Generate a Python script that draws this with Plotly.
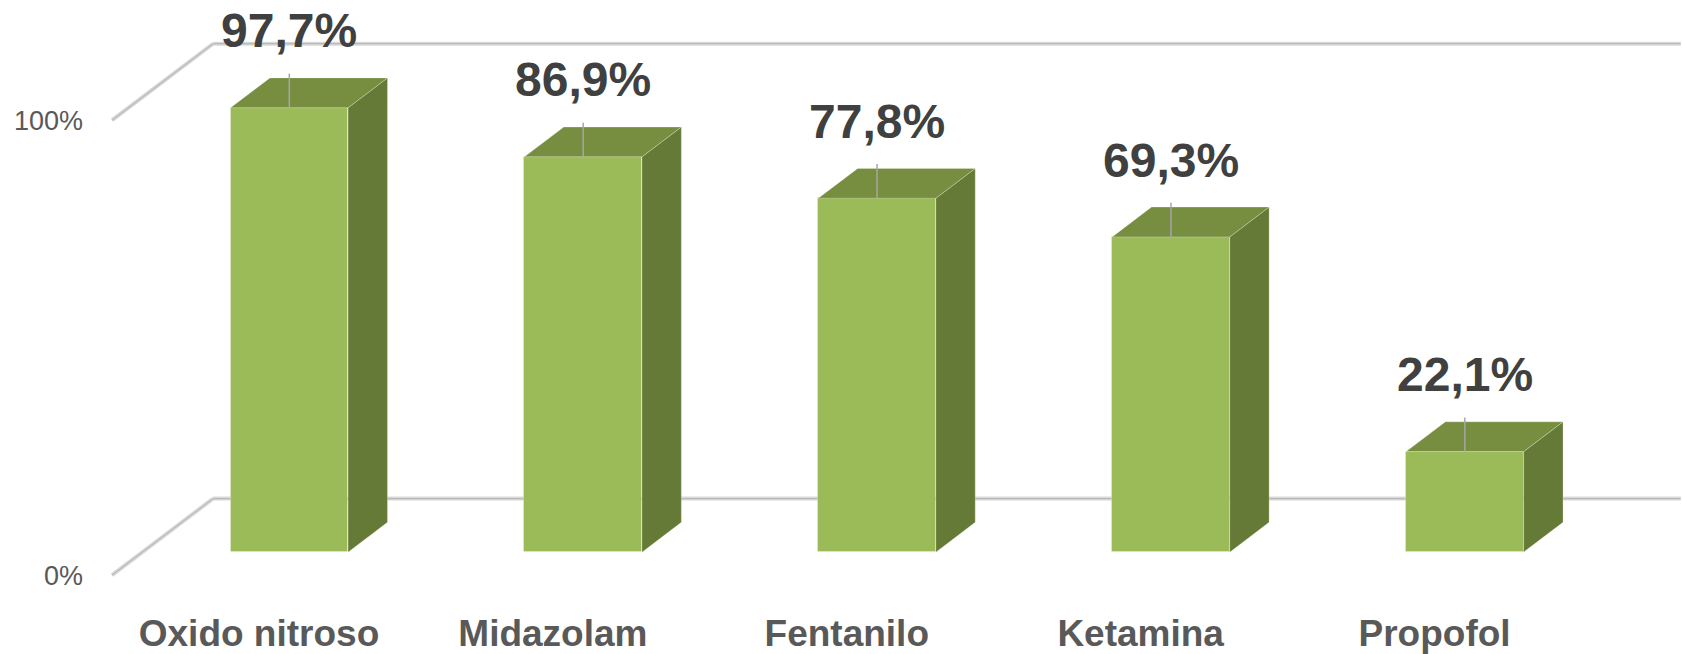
import plotly.graph_objects as go

# ---- data ----
categories = ["Oxido nitroso", "Midazolam", "Fentanilo", "Ketamina", "Propofol"]
values = [97.7, 86.9, 77.8, 69.3, 22.1]
y_tickvals = [0, 100]
y_ticktext = ["0%", "100%"]

# ---- 3D projection styling (offsets per unit depth) ----
DX = 0.3437   # x shift (category units) from front to back of floor
DY = 16.81    # y shift (% units) from front to back of floor
D0, D1 = 0.30, 0.69   # bar front / back depth
W = 0.20      # half bar width

FRONT = "#9BBB59"
TOP = "#778E41"
SIDE = "#657A36"
EDGE = "rgba(255,255,255,0.25)"
GRID_OUT = "#d9d9d9"
GRID_IN = "#bababa"

fig = go.Figure()

n = len(categories)
u_left, u_right = -0.5, n - 0.5 - 0.006

# gridlines (below traces): back wall lines + left diagonals
for v in y_tickvals:
    segs = [(u_left, v, u_left + DX, v + DY), (u_left + DX, v + DY, u_right + DX, v + DY)]
    for col, wd in [(GRID_OUT, 4), (GRID_IN, 1.2)]:
        for x0, y0, x1, y1 in segs:
            fig.add_shape(type="line", x0=x0, y0=y0, x1=x1, y1=y1, xref="x", yref="y",
                          line=dict(color=col, width=wd), layer="below")

# bars: side + top faces
for i, v in enumerate(values):
    xs = [i + W + D0 * DX, i + W + D1 * DX, i + W + D1 * DX, i + W + D0 * DX, i + W + D0 * DX]
    ys = [D0 * DY, D1 * DY, v + D1 * DY, v + D0 * DY, D0 * DY]
    fig.add_trace(go.Scatter(x=xs, y=ys, mode="lines", fill="toself",
                             fillcolor=SIDE, line=dict(color=EDGE, width=1),
                             hoverinfo="skip", showlegend=False))
    xs = [i - W + D0 * DX, i - W + D1 * DX, i + W + D1 * DX, i + W + D0 * DX, i - W + D0 * DX]
    ys = [v + D0 * DY, v + D1 * DY, v + D1 * DY, v + D0 * DY, v + D0 * DY]
    fig.add_trace(go.Scatter(x=xs, y=ys, mode="lines", fill="toself",
                             fillcolor=TOP, line=dict(color=EDGE, width=1),
                             hoverinfo="skip", showlegend=False))

# front faces
fig.add_trace(go.Bar(
    x=[i + D0 * DX for i in range(n)], y=values, base=[D0 * DY] * n,
    width=2 * W, marker=dict(color=FRONT, line=dict(color=EDGE, width=1)),
    hoverinfo="skip", showlegend=False))

# leader lines and labels
for i, v in enumerate(values):
    xc = i + D0 * DX
    ytop = v + D0 * DY
    fig.add_trace(go.Scatter(x=[xc, xc], y=[ytop, ytop + 7.5], mode="lines",
                             line=dict(color="#a6a6a6", width=1.5),
                             hoverinfo="skip", showlegend=False))
    fig.add_annotation(x=xc, y=ytop + 16.9, text=f"{v:.1f}".replace(".", ",") + "%",
                       showarrow=False, xanchor="center", yanchor="middle",
                       font=dict(family="Liberation Sans", size=48, color="#404040",
                                 weight="bold"))

fig.update_layout(
    width=1682, height=654,
    margin=dict(l=100, r=0, t=0, b=64),
    paper_bgcolor="white", plot_bgcolor="white",
    showlegend=False,
    bargap=0,
    xaxis=dict(range=[-0.541, 4.842], showgrid=False, zeroline=False, showline=False,
               tickvals=list(range(n)), ticktext=categories, ticks="",
               ticklabelstandoff=22,
               tickfont=dict(family="Liberation Sans", size=37, color="#595959",
                             weight="bold")),
    yaxis=dict(range=[-2.40, 126.42], showgrid=False, zeroline=False, showline=False,
               tickvals=y_tickvals, ticktext=y_ticktext, ticks="",
               ticklabelstandoff=16,
               tickfont=dict(family="Liberation Sans", size=27, color="#595959")),
)

fig.write_html("out.html", config={"displayModeBar": False},
               post_script="document.body.style.margin='0';document.body.style.overflow='hidden';")
